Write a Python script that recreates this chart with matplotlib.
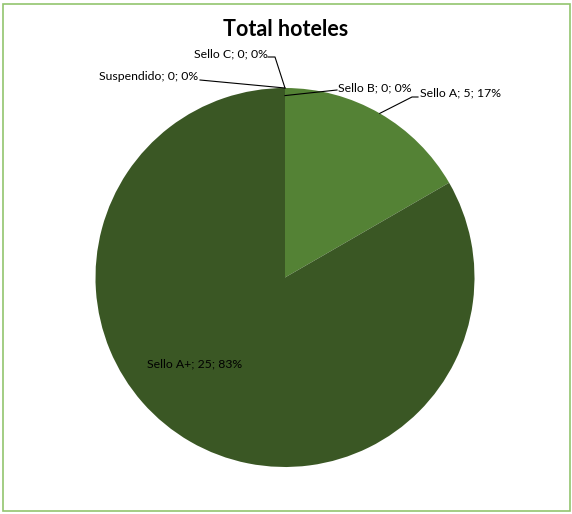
import matplotlib
matplotlib.use("Agg")
from matplotlib import pyplot as plt
from matplotlib.lines import Line2D
from matplotlib.patches import Rectangle
from matplotlib.transforms import IdentityTransform
import numpy as np

# data
categories = ["Sello A", "Sello A+", "Sello B", "Sello C", "Suspendido"]
values = [5, 25, 0, 0, 0]
colors = ["#548235", "#3A5724", "#A9D18E", "#70AD47", "#C5E0B4"]

W, H = 572, 514
plt.rcParams['font.family'] = ['Lato', 'DejaVu Sans']

fig = plt.figure(figsize=(W / 100, H / 100), dpi=100)

# pie centre / radius in pixels (top-left origin)
cx, cy, rad = 285, 277.5, 189.5
ax = fig.add_axes([(cx - rad) / W, (H - cy - rad) / H, 2 * rad / W, 2 * rad / H])
wedges, _ = ax.pie(values, colors=colors, startangle=90, counterclock=False,
                   radius=1, wedgeprops=dict(linewidth=0))
ax.set_xlim(-1, 1)
ax.set_ylim(-1, 1)
ax.set_aspect('equal')
ax.axis('off')

# outer border
fig.add_artist(Rectangle((2.5 / W, 3.5 / H), (W - 5) / W, (H - 7) / H,
                         transform=fig.transFigure, fill=False,
                         edgecolor="#92C56E", linewidth=1.2))

fig.text(286 / W, 1 - 29 / H, "Total hoteles", ha='center', va='center',
         fontsize=15.5, fontweight='bold', color='black')


# label layout: text pos (left x, centre y), elbow points, radius factor
layout = {
    "Sello A": ((420, 93), [(412, 97), (418, 97)], 1.0),
    "Sello A+": ((147, 364), None, None),
    "Sello B": ((338, 88), [(337, 90)], 0.96),
    "Sello C": ((194, 54), [(275, 57), (268, 57)], 1.0),
    "Suspendido": ((99, 77), [(200, 80)], 1.0),
}

fig.canvas.draw()
for w, cat, val in zip(wedges, categories, values):
    pct = 100 * val / sum(values)
    txt = "%s; %d; %d%%" % (cat, val, round(pct))
    (tx, ty), elbow, rf = layout[cat]
    fig.text(tx / W, 1 - ty / H, txt, ha='left', va='center', fontsize=8.8,
             color='black')
    if elbow is None:
        continue
    ang = np.deg2rad((w.theta1 + w.theta2) / 2)
    px, py = ax.transData.transform((rf * w.r * np.cos(ang), rf * w.r * np.sin(ang)))
    xs = [px] + [e[0] for e in elbow]
    ys = [py] + [H - e[1] for e in elbow]
    fig.add_artist(Line2D(xs, ys, transform=IdentityTransform(), color='black',
                          linewidth=0.8))

fig.savefig("out.png", dpi=100)
